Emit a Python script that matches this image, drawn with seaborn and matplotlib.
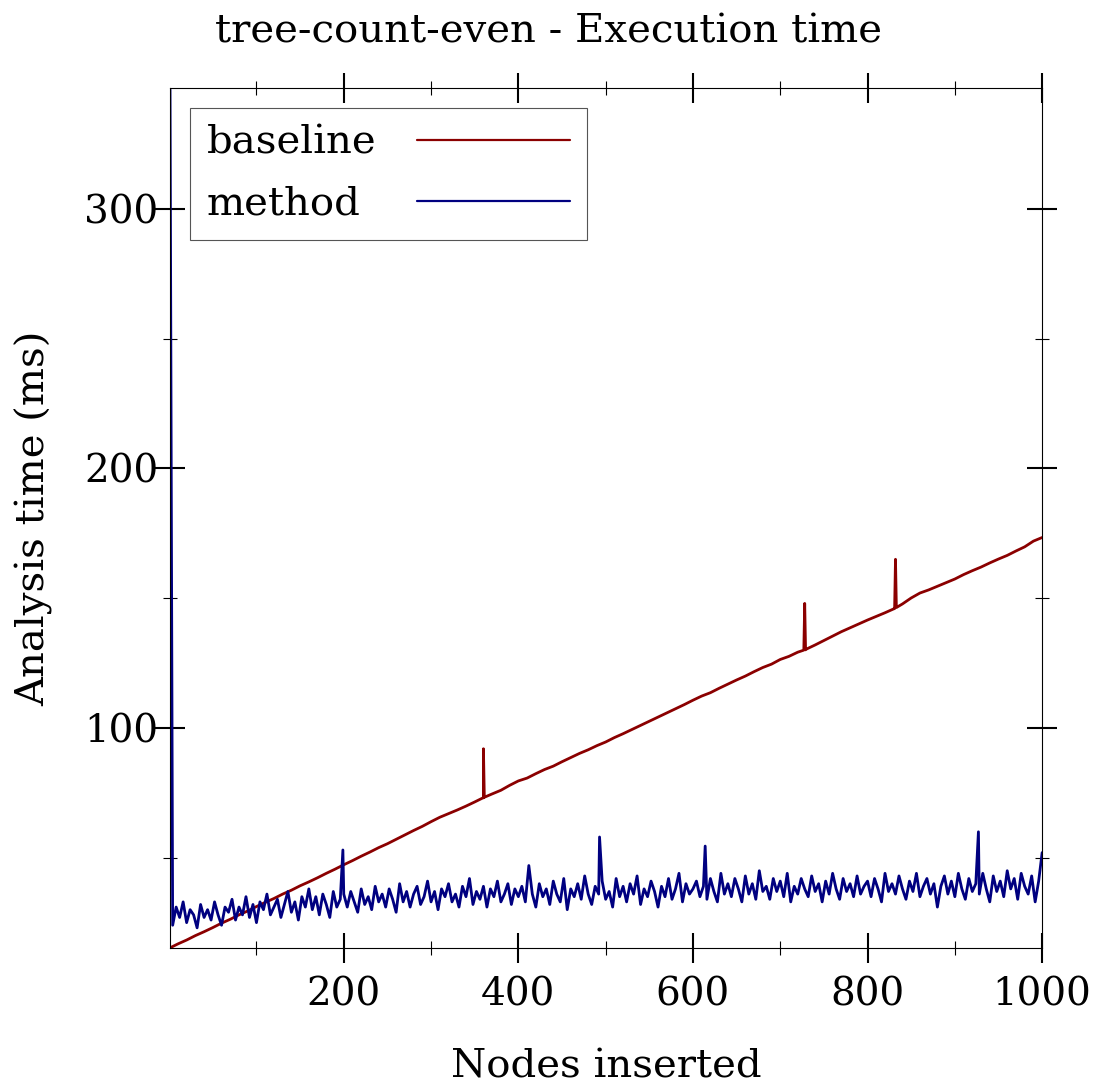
import numpy as np
import pandas as pd
import seaborn as sns
import matplotlib.pyplot as plt
from matplotlib.ticker import MultipleLocator

# baseline, sampled every 10 nodes (first point is node 1)
baseline_nodes = [1] + list(range(10, 1001, 10))
baseline_ms = [
    15.3, 16.8, 18.3, 20.0, 21.5, 23.1, 24.8, 26.3, 28.0, 29.5,
    31.2, 32.8, 34.3, 36.0, 37.5, 39.2, 40.7, 42.3, 44.0, 45.6,
    47.3, 48.9, 50.6, 52.2, 53.9, 55.4, 57.1, 58.8, 60.5, 62.1,
    63.9, 65.6, 67.0, 68.4, 69.9, 71.5, 73.1, 74.6, 76.0, 77.9,
    79.6, 80.7, 82.4, 84.0, 85.3, 87.0, 88.6, 90.2, 91.6, 93.2,
    94.6, 96.3, 97.8, 99.4, 101.0, 102.6, 104.2, 105.8, 107.4, 109.0,
    110.7, 112.3, 113.6, 115.3, 116.9, 118.5, 120.0, 121.7, 123.3, 124.6,
    126.4, 127.6, 129.2, 130.4, 132.0, 133.7, 135.4, 137.1, 138.6, 140.1,
    141.6, 143.0, 144.4, 145.9, 147.8, 150.1, 152.0, 153.2, 154.6, 156.0,
    157.4, 159.1, 160.6, 162.0, 163.6, 165.1, 166.5, 168.2, 169.8, 172.0,
    173.4,
]
baseline_spike_nodes = [359, 360, 361, 727, 728, 729, 831, 832, 833]
baseline_spike_ms = [73.0, 92.0, 73.3, 130.0, 148.0, 130.1, 146.0, 165.0, 146.4]

# method, sampled every 4 nodes (plus the first node)
method_nodes = [1] + list(range(4, 1001, 4))
method_ms = [346.0,
    24, 31, 27, 33, 25, 30, 28, 23, 32, 27,
    30, 26, 33, 28, 24, 31, 29, 34, 26, 31,
    28, 35, 27, 32, 25, 33, 30, 36, 28, 31,
    34, 27, 32, 37, 29, 33, 26, 35, 31, 38,
    30, 35, 28, 36, 32, 27, 37, 31, 34, 36,
    31, 37, 33, 29, 38, 32, 35, 30, 39, 33,
    36, 31, 38, 34, 29, 40, 33, 37, 31, 36,
    39, 32, 35, 41, 33, 37, 30, 38, 35, 40,
    33, 36, 31, 39, 35, 42, 32, 37, 34, 39,
    31, 38, 35, 41, 33, 36, 40, 32, 38, 35,
    39, 33, 47, 36, 31, 40, 35, 38, 32, 41,
    36, 33, 42, 30, 38, 35, 40, 34, 43, 36,
    32, 39, 36, 41, 34, 37, 31, 42, 35, 39,
    33, 40, 36, 43, 32, 38, 35, 41, 37, 31,
    39, 35, 42, 34, 38, 44, 33, 40, 36, 38,
    41, 35, 39, 34, 42, 37, 33, 44, 36, 40,
    35, 42, 38, 33, 43, 36, 40, 34, 45, 37,
    39, 34, 42, 37, 41, 35, 44, 33, 39, 36,
    42, 38, 35, 43, 37, 40, 33, 41, 36, 44,
    38, 34, 42, 37, 40, 35, 43, 36, 39, 41,
    35, 42, 38, 33, 44, 37, 40, 36, 43, 38,
    34, 41, 37, 44, 35, 39, 42, 36, 40, 31,
    39, 43, 36, 41, 35, 44, 38, 34, 42, 37,
    40, 36, 44, 38, 33, 43, 37, 41, 35, 45,
    38, 42, 34, 44, 39, 36, 43, 33, 41, 52,
]
method_spike_nodes = [199, 493, 614, 927]
method_spike_ms = [53.0, 58.0, 54.5, 60.0]

colors = {"baseline": "#8b0000", "method": "#000080"}

rows = []
for n, v in zip(baseline_nodes + baseline_spike_nodes, baseline_ms + baseline_spike_ms):
    rows.append([n, v, "baseline"])
for n, v in zip(method_nodes + method_spike_nodes, method_ms + method_spike_ms):
    rows.append([n, v, "method"])
df = pd.DataFrame(rows, columns=["Nodes", "Time", "Series"])

sns.set_style("white")
plt.rcParams["font.family"] = ["DejaVu Serif"]
plt.rcParams["text.color"] = "black"
plt.rcParams["axes.labelcolor"] = "black"

fig = plt.figure(figsize=(10.97, 10.86), dpi=100)
ax = fig.add_axes([0.155, 0.127, 0.795, 0.792])

sns.lineplot(data=df, x="Nodes", y="Time", hue="Series", palette=colors,
             estimator=None, sort=True, linewidth=2.0, ax=ax)

ax.set_xlim(1, 1000)
ax.set_ylim(15.2, 346.6)
ax.xaxis.set_major_locator(MultipleLocator(200))
ax.xaxis.set_minor_locator(MultipleLocator(100))
ax.yaxis.set_major_locator(MultipleLocator(100))
ax.yaxis.set_minor_locator(MultipleLocator(50))

for s in ax.spines.values():
    s.set_color("black")
    s.set_linewidth(0.8)

ax.tick_params(which="both", direction="inout", top=True, right=True,
               bottom=True, left=True, colors="black", labelsize=28)
ax.tick_params(which="major", length=21, width=1.5)
ax.tick_params(which="minor", length=9.5, width=0.8)
ax.tick_params(axis="x", which="major", pad=10)
ax.tick_params(axis="y", which="major", pad=-2)

ax.set_xlabel("Nodes inserted", fontsize=29, labelpad=25)
ax.set_ylabel("Analysis time (ms)", fontsize=29, labelpad=22)
fig.suptitle("tree-count-even - Execution time", fontsize=29, y=0.988)

sns.move_legend(ax, "upper left", bbox_to_anchor=(0.023, 0.977),
                borderaxespad=0, title=None, markerfirst=False,
                handlelength=3.8, handletextpad=1.0, frameon=True,
                fancybox=False, edgecolor="#555555", framealpha=1,
                fontsize=29, labelspacing=0.6, borderpad=0.42)
leg = ax.get_legend()
leg.get_frame().set_linewidth(0.8)
for h in leg.legend_handles:
    h.set_linewidth(1.6)

# left-align the legend texts while keeping the lines lined up on the right
fig.canvas.draw()
r = fig.canvas.get_renderer()
widths = [t.get_window_extent(r).width for t in leg.get_texts()]
col = leg._legend_handle_box.get_children()[0]
for row, w in zip(col.get_children(), widths):
    row.sep += (max(widths) - w) / r.points_to_pixels(1.0)

fig.savefig("out.png", dpi=100)
